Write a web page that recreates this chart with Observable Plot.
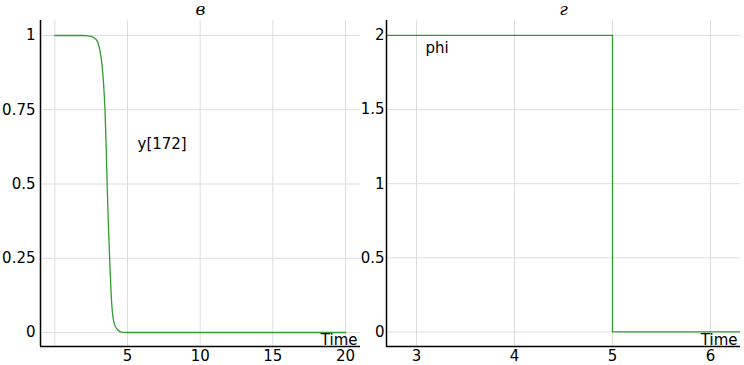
<!DOCTYPE html>
<html>
<head>
<meta charset="utf-8">
<script src="https://cdn.jsdelivr.net/npm/d3@7"></script>
<script src="https://cdn.jsdelivr.net/npm/@observablehq/plot@0.6"></script>
<style>
  html, body { margin: 0; padding: 0; background: #fff; }
  #wrap { position: relative; width: 744px; height: 365px; overflow: hidden; background: #fff; }
  #wrap svg { position: absolute; top: 0; overflow: visible; }
</style>
</head>
<body>
<div id="wrap"></div>
<script>
// ---- Panel "в": y[172] over Time ----
const timeA = [0, 2, 2.3, 2.6, 2.9, 3.1, 3.25, 3.35, 3.45, 3.53, 3.6, 3.68, 3.77, 3.9, 4.04, 4.25, 4.5, 4.7, 5, 20];
const yA    = [1, 1, 0.999, 0.995, 0.983, 0.95, 0.9, 0.84, 0.75, 0.63, 0.5, 0.37, 0.25, 0.108, 0.04, 0.013, 0.003, 0.0005, 0, 0];
const xTicksA = [5, 10, 15, 20];
const xGridA = [0, 5, 10, 15, 20];
const yTicksA = [0, 0.25, 0.5, 0.75, 1];
const titleA = "в";
const labelA = "y[172]";

// ---- Panel "г": phi over Time ----
const timeB = [0, 5, 5, 20];
const phiB  = [2, 2, 0, 0];
const xTicksB = [3, 4, 5, 6];
const yTicksB = [0, 0.5, 1, 1.5, 2];
const titleB = "г";
const labelB = "phi";

const axisTitle = "Time";
const lineColor = "#2f9e2f";
const gridColor = "#dedede";

const dataA = timeA.map((t, i) => ({t, v: yA[i]}));
const dataB = timeB.map((t, i) => ({t, v: phiB[i]}));

function panel({data, xDomain, yDomain, xTicks, xGrid, yTicks, title, label, labelDx, labelDy, marginLeft, marginRight, tickPad}) {
  return Plot.plot({
    width: 372,
    height: 365,
    marginTop: 20,
    marginBottom: 19,
    marginLeft,
    marginRight,
    style: {fontFamily: "DejaVu Sans, sans-serif", fontSize: "15px", color: "#000", background: "transparent", overflow: "visible"},
    x: {domain: xDomain},
    y: {domain: yDomain},
    marks: [
      Plot.gridX(xGrid, {stroke: gridColor, strokeOpacity: 1}),
      Plot.gridY(yTicks, {stroke: gridColor, strokeOpacity: 1}),
      Plot.axisX(xTicks, {tickSize: 0, tickPadding: 4, label: null, fontSize: 15}),
      Plot.axisY(yTicks, {tickSize: 0, tickPadding: tickPad, label: null, fontSize: 15, tickFormat: d => String(d)}),
      Plot.line(data, {x: "t", y: "v", stroke: lineColor, strokeWidth: 1.3, curve: "monotone-x", clip: true}),
      Plot.ruleX([xDomain[0]], {stroke: "#000", strokeWidth: 1.5}),
      Plot.ruleY([yDomain[0]], {stroke: "#000", strokeWidth: 1.5}),
      Plot.text([label], {frameAnchor: "top-left", textAnchor: "start", lineAnchor: "middle", dx: labelDx, dy: labelDy, fontSize: 15, fill: "#000"}),
      Plot.text([axisTitle], {frameAnchor: "bottom-right", textAnchor: "end", lineAnchor: "bottom", dx: -3, dy: -2, fontSize: 15, fill: "#000"}),
      Plot.text([title], {frameAnchor: "top", lineAnchor: "bottom", dy: -6, fontSize: 17, fontStyle: "italic", fontFamily: "DejaVu Serif, serif", fill: "#000"})
    ]
  });
}

const wrap = document.getElementById("wrap");

const svgA = panel({
  data: dataA,
  xDomain: [-0.986, 21.03],
  yDomain: [-0.0471, 1.0505],
  xTicks: xTicksA, xGrid: xGridA, yTicks: yTicksA,
  title: titleA, label: labelA, labelDx: 97, labelDy: 124,
  marginLeft: 40, marginRight: 12, tickPad: 5
});
svgA.style.left = "0px";
wrap.appendChild(svgA);

const svgB = panel({
  data: dataB,
  xDomain: [2.694, 6.306],
  yDomain: [-0.098, 2.101],
  xTicks: xTicksB, xGrid: xTicksB, yTicks: yTicksB,
  title: titleB, label: labelB, labelDx: 39, labelDy: 28,
  marginLeft: 14, marginRight: 4, tickPad: 2
});
svgB.style.left = "372px";
wrap.appendChild(svgB);
</script>
</body>
</html>
